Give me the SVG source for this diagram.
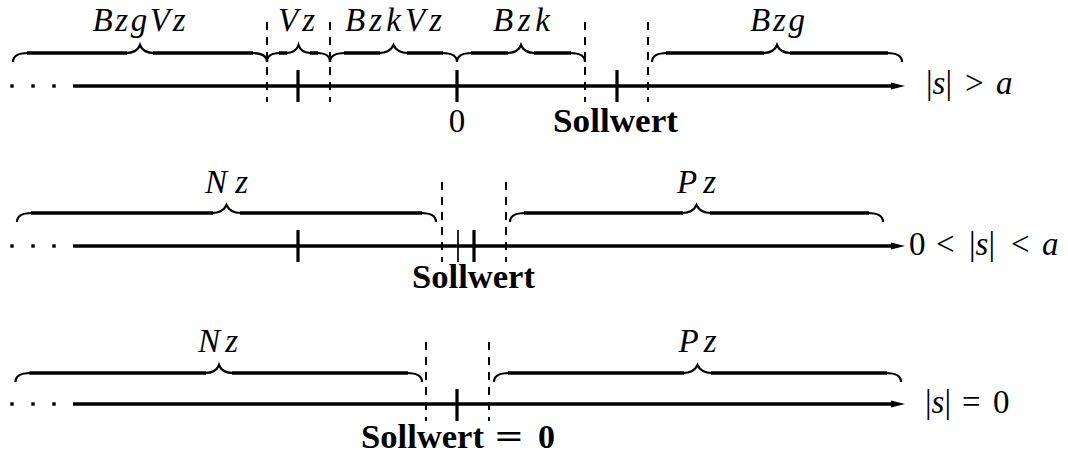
<svg xmlns="http://www.w3.org/2000/svg" width="1068" height="454" viewBox="0 0 1068 454">
<style>
.ax{stroke:#000;stroke-width:3.3;fill:none}
.dot{fill:#000}
.bar{stroke:#000;stroke-width:3.6;fill:none}
.crl{stroke:#000;stroke-width:2.2;fill:none}
.dash{stroke:#000;stroke-width:2;stroke-dasharray:8 7;fill:none}
.tk{stroke:#000;stroke-width:3.2}
.tkt{stroke:#000;stroke-width:1.7}
.lab{font-family:"Liberation Serif","DejaVu Serif",serif;font-style:italic;font-size:33px;fill:#000;text-anchor:middle}
.bold{font-family:"Liberation Serif","DejaVu Serif",serif;font-weight:bold;font-size:34px;fill:#000}
.rm{font-family:"Liberation Serif","DejaVu Serif",serif;font-size:33px;fill:#000}
.it{font-style:italic}
</style>
<defs>
<g id="dots"><rect x="10.3" y="-1.7" width="3.4" height="3.4"/><rect x="31.3" y="-1.7" width="3.4" height="3.4"/><rect x="52.3" y="-1.7" width="3.4" height="3.4"/></g>
</defs>

<g id="row1">
  <g id="axis1"><use href="#dots" y="86"/><path class="ax" d="M73 86H896"/><path d="M891 82.6L905 86L891 89.4Z"/></g>
  <g id="dashes1">
    <path class="dash" d="M267 22V102M330 22V102M585 22V102M648 22V102"/>
  </g>
  <g id="ticks1">
    <path class="tk" d="M298 70V102M457 70V102M617 70V102"/>
  </g>
  <g id="brace-BzgVz">
    <path class="crl" d="M13 62Q13 53 28 53M126 53Q137 53 140 45Q143 53 154 53M252 53Q267 53 267 62"/>
    <path class="bar" d="M27 53H127M153 53H253"/>
    <text class="lab" x="139" y="31" textLength="93" lengthAdjust="spacing">BzgVz</text>
  </g>
  <g id="brace-Vz">
    <path class="crl" d="M267 62Q267 53 280 53M286 53Q296 53 298.5 45Q301 53 311 53M317 53Q330 53 330 62"/>
    <path class="bar" d="M279 53H287M310 53H318"/>
    <text class="lab" x="296.5" y="31" textLength="37" lengthAdjust="spacing">Vz</text>
  </g>
  <g id="brace-BzkVz">
    <path class="crl" d="M330 62Q330 53 345 53M379 53Q390 53 393.5 45Q397 53 408 53M442 53Q457 53 457 62"/>
    <path class="bar" d="M344 53H380M407 53H443"/>
    <text class="lab" x="393.5" y="31" textLength="97" lengthAdjust="spacing">BzkVz</text>
  </g>
  <g id="brace-Bzk">
    <path class="crl" d="M457 62Q457 53 472 53M507 53Q518 53 521 45Q524 53 535 53M570 53Q585 53 585 62"/>
    <path class="bar" d="M471 53H508M534 53H571"/>
    <text class="lab" x="521.5" y="31" textLength="57" lengthAdjust="spacing">Bzk</text>
  </g>
  <g id="brace-Bzg">
    <path class="crl" d="M652 62Q652 53 667 53M763 53Q774 53 777 45Q780 53 791 53M887 53Q902 53 902 62"/>
    <path class="bar" d="M666 53H764M790 53H888"/>
    <text class="lab" x="777.5" y="31" textLength="55" lengthAdjust="spacing">Bzg</text>
  </g>
  <g id="labels1">
    <text class="rm" x="457" y="132" text-anchor="middle" font-size="33">0</text>
    <text class="bold" x="553" y="132" textLength="125" lengthAdjust="spacingAndGlyphs">Sollwert</text>
    <text class="rm" y="94"><tspan x="926">|</tspan><tspan class="it">s</tspan><tspan>|</tspan><tspan x="965">&gt;</tspan><tspan x="996" class="it">a</tspan></text>
  </g>
</g>

<g id="row2">
  <g id="axis2"><use href="#dots" y="246"/><path class="ax" d="M73 246H896"/><path d="M891 242.6L905 246L891 249.4Z"/></g>
  <g id="dashes2">
    <path class="dash" d="M442 182V262M506 182V262"/>
  </g>
  <g id="ticks2">
    <path class="tk" d="M298 230V262M474 230V262"/>
    <path class="tkt" d="M458 230V262"/>
  </g>
  <g id="brace-Nz2">
    <path class="crl" d="M17 222Q17 213 32 213M212 213Q223 213 226.5 205Q230 213 241 213M421 213Q436 213 436 222"/>
    <path class="bar" d="M31 213H213M240 213H422"/>
    <text class="lab" x="226.5" y="193" textLength="43" lengthAdjust="spacing">Nz</text>
  </g>
  <g id="brace-Pz2">
    <path class="crl" d="M510 222Q510 213 525 213M682 213Q693 213 696.5 205Q700 213 711 213M868 213Q883 213 883 222"/>
    <path class="bar" d="M524 213H683M710 213H869"/>
    <text class="lab" x="696.5" y="193" textLength="39" lengthAdjust="spacing">Pz</text>
  </g>
  <g id="labels2">
    <text class="bold" x="412" y="288" textLength="123" lengthAdjust="spacingAndGlyphs">Sollwert</text>
    <text class="rm" y="255"><tspan x="909">0</tspan><tspan x="936">&lt;</tspan><tspan x="969">|</tspan><tspan class="it">s</tspan><tspan>|</tspan><tspan x="1011">&lt;</tspan><tspan x="1042" class="it">a</tspan></text>
  </g>
</g>

<g id="row3">
  <g id="axis3"><use href="#dots" y="404"/><path class="ax" d="M73 404H896"/><path d="M891 400.6L905 404L891 407.4Z"/></g>
  <g id="dashes3">
    <path class="dash" d="M426 342V421M489 342V421"/>
  </g>
  <g id="ticks3">
    <path class="tk" d="M457 389V421"/>
  </g>
  <g id="brace-Nz3">
    <path class="crl" d="M15.5 382Q15.5 373 30.5 373M205 373Q216 373 219 365Q222 373 233 373M407 373Q422 373 422 382"/>
    <path class="bar" d="M29.5 373H206M232 373H408"/>
    <text class="lab" x="218" y="352" textLength="40" lengthAdjust="spacing">Nz</text>
  </g>
  <g id="brace-Pz3">
    <path class="crl" d="M494 382Q494 373 509 373M683 373Q694 373 697.5 365Q701 373 712 373M886 373Q901 373 901 382"/>
    <path class="bar" d="M508 373H684M711 373H887"/>
    <text class="lab" x="697.5" y="352" textLength="38" lengthAdjust="spacing">Pz</text>
  </g>
  <g id="labels3">
    <text class="bold" y="448"><tspan x="361" textLength="123" lengthAdjust="spacingAndGlyphs">Sollwert</tspan><tspan x="495" textLength="28" lengthAdjust="spacingAndGlyphs">=</tspan><tspan x="538">0</tspan></text>
    <text class="rm" y="413"><tspan x="925">|</tspan><tspan class="it">s</tspan><tspan>|</tspan><tspan x="962">=</tspan><tspan x="993">0</tspan></text>
  </g>
</g>
</svg>
